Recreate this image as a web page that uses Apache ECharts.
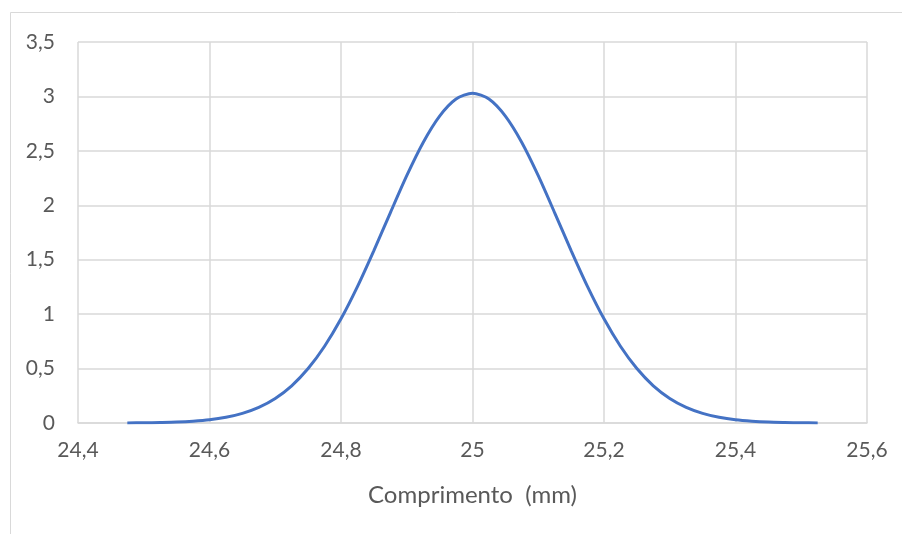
<!DOCTYPE html>
<html>
<head>
<meta charset="utf-8">
<script src="https://cdn.jsdelivr.net/npm/echarts@6/dist/echarts.min.js"></script>
<style>
  html, body { margin: 0; padding: 0; background: #ffffff; }
  #chart { width: 902px; height: 534px; }
</style>
</head>
<body>
<div id="chart"></div>
<script>
// Length (mm) samples and the density curve values
const lengths = [
  24.475, 24.5, 24.525, 24.55, 24.575, 24.6, 24.625, 24.65, 24.675, 24.7,
  24.725, 24.75, 24.775, 24.8, 24.825, 24.85, 24.875, 24.9, 24.925, 24.95,
  24.975, 25.0, 25.025, 25.05, 25.075, 25.1, 25.125, 25.15, 25.175, 25.2,
  25.225, 25.25, 25.275, 25.3, 25.325, 25.35, 25.375, 25.4, 25.425, 25.45,
  25.475, 25.5, 25.525
];
const density = [
  0.001, 0.002, 0.005, 0.009, 0.017, 0.030, 0.053, 0.089, 0.144, 0.226,
  0.342, 0.500, 0.705, 0.957, 1.253, 1.584, 1.931, 2.272, 2.577, 2.819,
  2.976, 3.030, 2.976, 2.819, 2.577, 2.272, 1.931, 1.584, 1.253, 0.957,
  0.705, 0.500, 0.342, 0.226, 0.144, 0.089, 0.053, 0.030, 0.017, 0.009,
  0.005, 0.002, 0.001
];
const xAxisTitle = 'Comprimento  (mm)';

const gridColor = '#d9d9d9';
const labelColor = '#595959';
const fontFamily = 'Lato, "Open Sans", sans-serif';
const commaFmt = v => String(Math.round(v * 10) / 10).replace('.', ',');

const chart = echarts.init(document.getElementById('chart'), null, { renderer: 'canvas' });
chart.setOption({
  animation: false,
  backgroundColor: '#ffffff',
  graphic: [{
    type: 'rect',
    shape: { x: 10.5, y: 12.5, width: 1000, height: 1000 },
    style: { fill: 'none', stroke: gridColor, lineWidth: 1 },
    silent: true
  }],
  grid: { left: 78, right: 35, top: 42, bottom: 111 },
  xAxis: {
    type: 'value',
    min: 24.4,
    max: 25.6,
    interval: 0.2,
    name: xAxisTitle,
    nameLocation: 'middle',
    nameGap: 60,
    nameTextStyle: { color: labelColor, fontSize: 24, fontFamily },
    axisLine: { show: true, lineStyle: { color: gridColor, width: 1.5 } },
    axisTick: { show: false },
    axisLabel: { color: labelColor, fontSize: 21, fontFamily, margin: 17, formatter: commaFmt },
    splitLine: { show: true, lineStyle: { color: gridColor, width: 1.5 } }
  },
  yAxis: {
    type: 'value',
    min: 0,
    max: 3.5,
    interval: 0.5,
    axisLine: { show: false },
    axisTick: { show: false },
    axisLabel: { color: labelColor, fontSize: 21, fontFamily, margin: 23, formatter: commaFmt },
    splitLine: { show: true, lineStyle: { color: gridColor, width: 1.5 } }
  },
  series: [{
    type: 'line',
    data: lengths.map((x, i) => [x, density[i]]),
    smooth: 0.25,
    showSymbol: false,
    lineStyle: { color: '#4472c4', width: 3 },
    itemStyle: { color: '#4472c4' }
  }]
});
</script>
</body>
</html>
